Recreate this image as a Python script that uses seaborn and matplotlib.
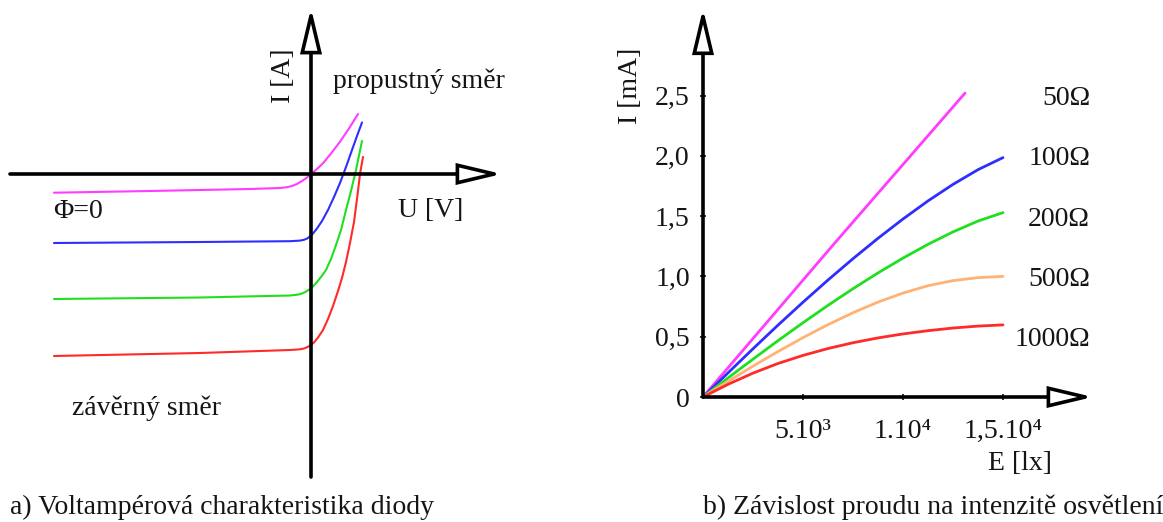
import numpy as np
import pandas as pd
import matplotlib
matplotlib.use("Agg")
import matplotlib.pyplot as plt
import seaborn as sns

# ---------------- panel a: diode V-A characteristic (arbitrary units) ----------------
u_phi0 = [-257, -161, -61, -31, -24, -19, -14, -9, -5, 0, 6, 12, 20, 29, 38, 47]
i_phi0 = [-18.7, -17, -15, -14, -13.2, -12, -10, -7, -4.3, 0, 5, 10.7, 20.5, 32.3, 45.5, 60]

u_phi1 = [-257, -111, -21, -11, -7, -4, -1, 2, 6, 11, 17, 23, 29, 35, 41, 46, 51]
i_phi1 = [-69, -68, -67.2, -66.6, -65.8, -64.6, -62.5, -59.5, -54.5, -47, -36, -23, -9, 7, 24, 38, 51.5]

u_phi2 = [-257, -111, -21, -13, -9, -5, -1, 2, 6, 10, 15, 20, 25, 30, 35, 40, 45, 51]
i_phi2 = [-125, -123.5, -121.5, -120.6, -119.5, -117.6, -115, -112.5, -108, -103, -96, -85, -71,
          -56, -36, -17, 4, 33]

u_phi3 = [-257, -111, -21, -11, -7, -3, 0, 3, 7, 12, 17, 22, 27, 31, 35, 39, 43, 46.5, 49, 52]
i_phi3 = [-182, -179, -176, -175.3, -174.5, -172.8, -171, -168.5, -163.5, -156, -145, -132, -117,
          -104, -88, -69, -48, -21, 0, 17]

curves_a = ["Φ=0", "Φ1", "Φ2", "Φ3"]

# ---------------- panel b: current vs illuminance ----------------
resistances = ["50Ω", "100Ω", "200Ω", "500Ω", "1000Ω"]
e_50 = [0, 6500, 13100]
i_50 = [0, 1.26, 2.52]
e_lx = [0, 1250, 2500, 3750, 5000, 6250, 7500, 8750, 10000, 11250, 12500, 13750, 15000]
i_100 = [0, 0.20, 0.40, 0.596, 0.786, 0.97, 1.147, 1.316, 1.476, 1.626, 1.763, 1.885, 1.985]
i_200 = [0, 0.158, 0.314, 0.467, 0.616, 0.760, 0.898, 1.029, 1.152, 1.266, 1.369, 1.459, 1.529]
i_500 = [0, 0.13, 0.256, 0.377, 0.492, 0.60, 0.699, 0.787, 0.862, 0.923, 0.965, 0.99, 1.0]
i_1000 = [0, 0.105, 0.198, 0.278, 0.345, 0.402, 0.45, 0.49, 0.523, 0.55, 0.572, 0.588, 0.598]

x_tick_vals = [5000, 10000, 15000]
x_tick_labels = ["5.10³", "1.10⁴", "1,5.10⁴"]
y_tick_vals = [0, 0.5, 1.0, 1.5, 2.0, 2.5]
y_tick_labels = ["0", "0,5", "1,0", "1,5", "2,0", "2,5"]

# ---------------- styling ----------------
sns.set_theme(style="white")
plt.rcParams["font.family"] = ["Liberation Serif", "DejaVu Serif"]
FS = 20
TXT = "#151515"
pal_a = {"Φ=0": "#FF3CFF", "Φ1": "#2E2EFF", "Φ2": "#1FE01F", "Φ3": "#FF2A2A"}
pal_b = {"50Ω": "#FF3CFF", "100Ω": "#2E2EFF", "200Ω": "#1FE01F",
         "500Ω": "#FFB275", "1000Ω": "#FF2A2A"}

W, H = 1163, 522
fig = plt.figure(figsize=(W / 100, H / 100), dpi=100)
fig.patch.set_facecolor("white")


def fpos(x, y):
    return x / W, 1 - y / H


def axis_arrow(ax, start, tip):
    ax.annotate("", xy=tip, xytext=start, zorder=4,
                arrowprops=dict(arrowstyle="-|>,head_length=26.5,head_width=6.3",
                                mutation_scale=1, lw=2.6, fc="white", ec="black",
                                shrinkA=0, shrinkB=0, joinstyle="miter"))


# ---------------- panel a ----------------
axa = fig.add_axes([0, 0, 580 / W, 1])
dfa = pd.concat([
    pd.DataFrame({"U": u, "I": i, "curve": c})
    for u, i, c in zip([u_phi0, u_phi1, u_phi2, u_phi3],
                       [i_phi0, i_phi1, i_phi2, i_phi3], curves_a)
])
sns.lineplot(data=dfa, x="U", y="I", hue="curve", palette=pal_a, sort=False,
             estimator=None, legend=False, lw=1.5, ax=axa, zorder=2)
axa.set_xlim(-311, 269)
axa.set_ylim(-348, 174)
axa.axis("off")
axis_arrow(axa, (0, -303), (0, 166))
axis_arrow(axa, (-301, 0), (191, 0))

fig.text(*fpos(283, 76), "I [A]", rotation=90, ha="center", va="center", fontsize=FS, color=TXT)
fig.text(*fpos(333, 88), "propustný směr", ha="left", va="baseline", fontsize=FS, color=TXT)
fig.text(*fpos(53, 218), "Φ=0", ha="left", va="baseline", fontsize=FS, color=TXT)
fig.text(*fpos(398, 217), "U [V]", ha="left", va="baseline", fontsize=FS, color=TXT)
fig.text(*fpos(72, 415), "závěrný směr", ha="left", va="baseline", fontsize=FS, color=TXT)
fig.text(*fpos(10, 514), "a) Voltampérová charakteristika diody", ha="left", va="baseline",
         fontsize=FS, color=TXT)

# ---------------- panel b ----------------
axb = fig.add_axes([580 / W, 0, 583 / W, 1])
axb.set_facecolor("none")
dfb = pd.concat(
    [pd.DataFrame({"E": e_50, "I": i_50, "R": resistances[0]})] +
    [pd.DataFrame({"E": e_lx, "I": i, "R": r})
     for i, r in zip([i_100, i_200, i_500, i_1000], resistances[1:])]
)
sns.lineplot(data=dfb, x="E", y="I", hue="R", palette=pal_b, sort=False,
             estimator=None, legend=False, lw=2.0, ax=axb, zorder=2)
axb.set_xlim(-6150, 23000)
axb.set_ylim(-1.0365, 3.292)
axb.set_xlabel("")
axb.set_ylabel("")
for s in ["top", "right"]:
    axb.spines[s].set_visible(False)
for s in ["left", "bottom"]:
    axb.spines[s].set_position(("data", 0))
    axb.spines[s].set_visible(False)
axb.set_xticks(x_tick_vals)
axb.set_xticklabels(x_tick_labels)
axb.set_yticks(y_tick_vals)
axb.set_yticklabels(y_tick_labels)
axb.tick_params(axis="both", direction="inout", length=5, width=1.1, colors="black",
                labelsize=FS, labelcolor=TXT, left=True, bottom=True)
axb.tick_params(axis="y", pad=7)
axb.tick_params(axis="x", pad=13)
axb.grid(False)
axis_arrow(axb, (0, 0), (0, 3.22))
axis_arrow(axb, (0, 0), (19500, 0))

label_y = [2.5, 2.0, 1.5, 1.0, 0.5]
for r, yy in zip(resistances, label_y):
    axb.text(19350, yy, r, ha="right", va="center_baseline", fontsize=FS, color=TXT)

fig.text(*fpos(630, 86), "I [mA]", rotation=90, ha="center", va="center", fontsize=FS, color=TXT)
fig.text(*fpos(988, 470), "E [lx]", ha="left", va="baseline", fontsize=FS, color=TXT)
fig.text(*fpos(703, 514), "b) Závislost proudu na intenzitě osvětlení", ha="left",
         va="baseline", fontsize=FS, color=TXT)

fig.savefig("out.png", dpi=100, facecolor="white")
